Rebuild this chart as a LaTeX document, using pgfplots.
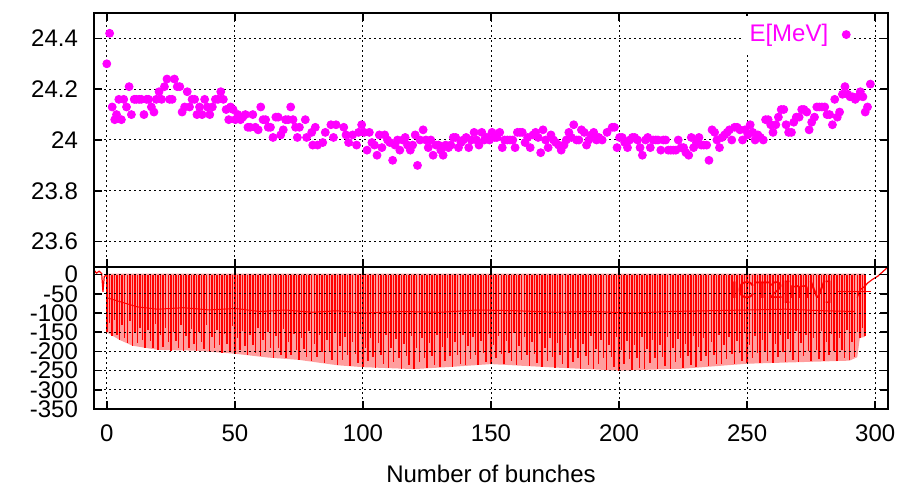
\documentclass[border=0pt]{standalone}
\usepackage{fontspec}
\setmainfont{Liberation Sans}
\usepackage{pgfplots}
\pgfplotsset{compat=1.18}

\definecolor{emag}{HTML}{FF00FF}
\definecolor{ictred}{HTML}{FF0000}

\pgfplotsset{
  panel/.style={
    scale only axis, width=397pt,
    xmin=-5, xmax=305, enlargelimits=false,
    xtick={0,50,...,300},
    tick align=inside, major tick length=4pt,
    tick style={black, line width=0.8pt},
    axis line style={line width=0.9pt},
    grid=major,
    major grid style={black, line width=0.5pt, dash pattern=on 1pt off 1.5pt},
    /pgf/number format/assume math mode=true,
    tick label style={font=\fontsize{12}{14}\selectfont},
    yticklabel style={xshift=-4.5pt},
    xticklabel style={yshift=-4.5pt},
    label style={font=\fontsize{12}{14}\selectfont},
    legend style={draw=none, font=\fontsize{12}{14}\selectfont, inner sep=2pt},
    legend cell align=right,
    legend plot pos=right,
  }
}

\begin{document}
\begin{tikzpicture}
\useasboundingbox (-47pt,6.5pt) rectangle (404.5pt,-236pt);

% upper panel: beam energy per bunch
\begin{axis}[panel, at={(0,0)}, anchor=north west, height=127pt,
  ymin=23.5, ymax=24.5,
  ytick={23.6,23.8,24,24.2,24.4}, yticklabels={23.6,23.8,24,24.2,24.4},
  xticklabels={},
  legend style={at={(0.958,0.915)}, anchor=east, fill=white, text=emag,
    /tikz/every odd column/.style={column sep=5pt}}]
\addplot[only marks, mark=*, mark size=2pt, color=emag] coordinates {
(0.0,24.30)(1.1,24.42)(2.1,24.13)(3.1,24.08)(3.8,24.10)(4.7,24.16)(5.7,24.08)(6.6,24.16)
(7.7,24.13)(8.7,24.21)(9.6,24.10)(10.7,24.16)(11.5,24.16)(12.6,24.16)(13.5,24.16)(14.5,24.10)
(15.5,24.16)(16.3,24.16)(17.4,24.13)(18.4,24.11)(19.3,24.16)(20.4,24.19)(21.4,24.16)(22.5,24.21)
(23.5,24.24)(24.5,24.16)(25.5,24.16)(26.4,24.24)(27.5,24.21)(28.5,24.21)(29.4,24.11)(30.4,24.13)
(31.4,24.19)(32.3,24.13)(33.3,24.16)(34.3,24.16)(35.2,24.10)(36.2,24.13)(37.2,24.10)(38.2,24.16)
(39.2,24.13)(40.2,24.10)(41.2,24.13)(42.4,24.16)(43.4,24.16)(44.5,24.19)(45.5,24.16)(46.6,24.12)
(47.6,24.08)(48.3,24.13)(49.3,24.12)(50.2,24.08)(51.2,24.10)(52.2,24.08)(53.1,24.09)(54.1,24.10)
(55.1,24.05)(56.0,24.05)(57.0,24.10)(58.0,24.05)(59.1,24.04)(60.1,24.13)(61.0,24.08)(62.0,24.08)
(63.0,24.05)(63.9,24.05)(64.9,24.01)(66.0,24.09)(66.9,24.09)(67.9,24.02)(68.9,24.04)(69.8,24.08)
(70.8,24.08)(71.8,24.13)(72.7,24.08)(73.7,24.05)(74.4,24.01)
(75.2,24.05)(77.5,24.08)(78.0,24.01)(80.0,24.03)(80.4,23.98)(81.4,24.05)(82.3,23.98)(84.3,23.99)
(85.3,24.03)(87.5,24.06)(88.5,24.01)(89.5,24.06)(92.5,24.05)(93.4,24.02)(94.4,23.99)(96.0,24.02)
(97.5,23.98)(98.3,24.03)(99.5,24.06)(100.5,24.03)(101.6,23.96)(102.5,24.03)(103.5,23.99)(104.5,23.98)
(105.5,23.94)(106.4,24.02)(107.4,23.97)(108.5,24.02)(109.6,24.00)(110.5,23.99)(111.6,23.92)(112.5,23.98)
(113.5,24.00)(114.4,23.96)(115.5,24.00)(116.5,24.01)(117.4,23.98)(118.5,23.96)(119.4,23.98)(120.4,24.02)
(121.3,23.90)(122.3,24.00)(123.5,24.04)(124.6,24.00)(125.5,23.97)(126.5,24.00)(127.4,23.94)(128.5,23.98)
(129.5,23.98)(130.4,23.96)(131.3,23.94)(132.3,23.98)(133.4,23.97)(134.3,23.98)(135.3,24.01)(136.2,24.01)
(137.3,23.97)(138.3,23.99)(139.2,24.00)(140.3,24.01)(141.3,23.97)(142.3,24.00)(143.4,24.03)(144.3,24.00)
(145.3,23.98)(146.4,24.03)(147.4,24.00)(148.4,24.01)(149.4,24.00)(150.4,24.03)(151.4,24.01)(152.3,24.01)
(153.4,24.03)(154.4,23.97)(155.3,24.00)(156.4,24.00)(157.4,24.00)(158.5,24.00)(159.4,23.97)(160.3,24.03)
(161.3,24.03)(162.2,24.03)(163.3,23.99)(164.3,24.01)(165.3,23.97)(166.4,24.02)(167.4,24.03)(168.4,24.01)
(169.4,23.95)(170.3,24.04)(171.3,24.00)(172.3,23.97)(173.4,24.02)(174.4,24.00)(175.3,23.99)(176.4,23.98)
(177.4,23.96)(178.5,23.98)(179.4,24.00)(180.4,24.03)(181.4,24.01)(182.3,24.06)(183.4,24.00)(184.3,24.00)
(185.3,24.04)(186.4,24.03)(187.3,23.98)(188.2,24.00)(189.2,24.02)(190.1,24.03)(191.2,24.00)
(192.1,24.01)(193.4,24.00)(195.3,24.03)(197.3,24.05)(198.2,24.05)(199.2,23.97)(200.2,24.01)(201.2,24.01)
(202.2,23.99)(203.3,23.97)(204.2,24.00)(205.2,24.01)(206.1,24.01)(207.2,24.00)(208.2,23.97)(209.1,23.94)
(210.3,24.00)(211.2,24.01)(212.2,23.97)(213.3,24.00)(214.3,24.00)(215.2,24.00)(216.3,23.96)(217.3,24.00)
(218.2,24.00)(219.2,23.96)(220.2,23.96)(221.2,23.96)(222.2,23.96)(223.1,24.00)(224.2,23.97)(225.2,23.97)
(226.1,23.95)(227.2,23.94)(228.2,24.01)(229.1,23.97)(230.2,23.99)(231.2,24.01)(232.1,23.98)(233.1,23.98)
(234.2,23.98)(235.1,23.92)(236.3,24.04)(237.3,24.03)(238.2,24.00)(239.2,23.97)(240.2,24.01)(241.2,24.02)
(242.2,24.03)(243.1,24.04)(244.0,24.00)(245.1,24.05)(246.1,24.05)(247.2,24.04)(248.2,24.00)(249.2,24.04)
(250.3,24.02)(251.2,24.06)(252.2,24.03)(253.1,24.00)(254.2,24.02)(255.2,24.01)(256.3,24.00)(257.2,24.08)
(258.2,24.08)(259.2,24.06)(260.1,24.03)(261.2,24.06)(262.2,24.09)(263.3,24.12)(264.3,24.12)(265.2,24.06)
(266.2,24.03)(267.3,24.03)(268.2,24.07)(269.2,24.09)(270.3,24.09)(271.3,24.12)(272.2,24.12)(273.3,24.11)
(274.2,24.04)(275.2,24.07)(276.3,24.09)(277.2,24.13)(278.2,24.13)(279.2,24.13)(280.3,24.13)(281.2,24.10)
(282.2,24.10)(283.3,24.06)(284.2,24.16)(285.2,24.09)(286.1,24.11)(287.2,24.18)(288.2,24.21)(289.3,24.18)
(290.2,24.17)(291.2,24.17)(292.2,24.16)(293.3,24.17)(294.2,24.19)(295.2,24.17)(296.1,24.11)(297.0,24.13)
(298.1,24.22)
};
\addlegendentry{E[MeV]}
\end{axis}

% lower panel: ICT2 signal
\begin{axis}[panel, at={(0,-127pt)}, anchor=north west, height=71pt,
  ymin=-350, ymax=20,
  ytick={-350,-300,-250,-200,-150,-100,-50,0},
  yticklabels={-350,-300,-250,-200,-150,-100,-50,0},
  xticklabels={0,50,100,150,200,250,300},
  xlabel={Number of bunches},
  xlabel style={yshift=-4.5pt},
  axis on top,
  legend style={at={(0.985,0.83)}, anchor=east, fill=none, text=ictred}]
\addplot[draw=none, fill=ictred!38, forget plot] coordinates {
(0,3)(0,-150)(5,-170)(10,-185)(20,-196)(35,-198)(50,-206)(63,-216)(75,-222)(90,-236)(100,-241)
(120,-246)(135,-240)(150,-233)(175,-242)(200,-250)(225,-245)(250,-232)(270,-228)(290,-224)
(293,-215)(294,-165)(296,-162)(296,3)
} -- cycle;
\addplot[ycomb, ictred, line width=0.75pt, forget plot] coordinates {
(0,-150)(1,-125)(2,-160)(3,-118)(4,-158)(5,-170)(6,-130)(7,-165)(8,-178)(9,-120)
(10,-185)(11,-150)(12,-178)(13,-138)(14,-170)(15,-192)(16,-145)(17,-172)(18,-190)(19,-128)
(20,-196)(21,-158)(22,-188)(23,-140)(24,-176)(25,-198)(26,-150)(27,-172)(28,-192)(29,-130)
(30,-198)(31,-160)(32,-190)(33,-142)(34,-180)(35,-198)(36,-150)(37,-176)(38,-194)(39,-132)
(40,-202)(41,-162)(42,-192)(43,-145)(44,-182)(45,-204)(46,-154)(47,-180)(48,-198)(49,-135)
(50,-206)(51,-166)(52,-196)(53,-148)(54,-186)(55,-210)(56,-158)(57,-184)(58,-204)(59,-138)
(60,-212)(61,-170)(62,-202)(63,-150)(64,-192)(65,-216)(66,-160)(67,-190)(68,-210)(69,-142)
(70,-218)(71,-175)(72,-208)(73,-155)(74,-196)(75,-222)(76,-165)(77,-194)(78,-214)(79,-146)
(80,-226)(81,-180)(82,-214)(83,-158)(84,-202)(85,-230)(86,-170)(87,-200)(88,-222)(89,-150)
(90,-236)(91,-186)(92,-222)(93,-162)(94,-210)(95,-238)(96,-175)(97,-206)(98,-230)(99,-155)
(100,-240)(101,-190)(102,-226)(103,-166)(104,-214)(105,-242)(106,-178)(107,-210)(108,-234)(109,-158)
(110,-244)(111,-192)(112,-228)(113,-168)(114,-216)(115,-245)(116,-180)(117,-212)(118,-236)(119,-160)
(120,-245)(121,-190)(122,-228)(123,-166)(124,-216)(125,-244)(126,-178)(127,-212)(128,-235)(129,-158)
(130,-240)(131,-188)(132,-224)(133,-165)(134,-212)(135,-240)(136,-176)(137,-208)(138,-232)(139,-156)
(140,-236)(141,-186)(142,-220)(143,-162)(144,-208)(145,-236)(146,-174)(147,-205)(148,-228)(149,-154)
(150,-232)(151,-184)(152,-218)(153,-160)(154,-206)(155,-234)(156,-172)(157,-204)(158,-226)(159,-152)
(160,-236)(161,-186)(162,-222)(163,-162)(164,-210)(165,-238)(166,-175)(167,-206)(168,-230)(169,-155)
(170,-240)(171,-190)(172,-226)(173,-165)(174,-214)(175,-242)(176,-178)(177,-210)(178,-234)(179,-158)
(180,-244)(181,-192)(182,-228)(183,-168)(184,-216)(185,-245)(186,-180)(187,-212)(188,-236)(189,-160)
(190,-246)(191,-194)(192,-232)(193,-170)(194,-218)(195,-248)(196,-182)(197,-214)(198,-240)(199,-162)
(200,-250)(201,-196)(202,-234)(203,-172)(204,-220)(205,-248)(206,-184)(207,-216)(208,-242)(209,-163)
(210,-246)(211,-194)(212,-230)(213,-170)(214,-218)(215,-246)(216,-182)(217,-214)(218,-238)(219,-162)
(220,-245)(221,-192)(222,-228)(223,-168)(224,-216)(225,-244)(226,-180)(227,-212)(228,-236)(229,-160)
(230,-240)(231,-188)(232,-224)(233,-165)(234,-212)(235,-238)(236,-176)(237,-208)(238,-232)(239,-156)
(240,-234)(241,-184)(242,-220)(243,-162)(244,-206)(245,-234)(246,-172)(247,-204)(248,-226)(249,-152)
(250,-231)(251,-182)(252,-216)(253,-160)(254,-204)(255,-230)(256,-170)(257,-200)(258,-224)(259,-150)
(260,-229)(261,-180)(262,-214)(263,-158)(264,-202)(265,-228)(266,-168)(267,-198)(268,-222)(269,-148)
(270,-227)(271,-178)(272,-212)(273,-156)(274,-200)(275,-226)(276,-166)(277,-196)(278,-220)(279,-146)
(280,-225)(281,-176)(282,-210)(283,-155)(284,-198)(285,-224)(286,-165)(287,-195)(288,-218)(289,-145)
(290,-222)(291,-176)(292,-214)(293,-150)(294,-165)(295,-140)(296,-160)
};
\addplot[ictred, line width=0.5pt, forget plot] coordinates {
(0,-60)(6,-72)(12,-84)(20,-90)(30,-86)(40,-92)(50,-88)(60,-96)(70,-92)(80,-98)(90,-94)
(100,-100)(115,-96)(130,-98)(145,-92)(160,-94)(175,-98)(190,-96)(205,-100)(220,-96)
(235,-94)(250,-92)(265,-90)(280,-94)(292,-96)
};
\addplot[ictred, line width=0.6pt, forget plot] coordinates {
(-5,12)(-4,4)(-3,9)(-2,3)(-1.5,-45)(-1,-5)(0,0)
};
\addplot[ictred, line width=0.6pt] coordinates {
(293,-60)(294,-40)(296,-30)(297,-22)(299,-12)(301,-4)(303,8)(305,20)
};
\addlegendentry{ICT2[mV]}
\end{axis}
\end{tikzpicture}
\end{document}
